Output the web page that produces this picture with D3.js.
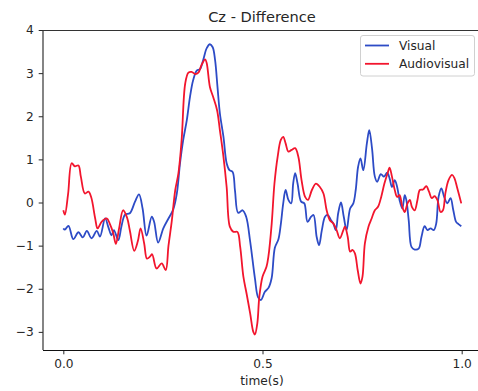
<!DOCTYPE html>
<html><head><meta charset="utf-8">
<script src="https://cdn.jsdelivr.net/npm/d3@7"></script>
<style>body{margin:0;background:#fff}svg{display:block;font-family:"DejaVu Sans",sans-serif}</style>
</head><body><svg id="c" width="478" height="391"></svg>
<script>
const title = "Cz - Difference";
const xLabel = "time(s)";
const xTicks = [0.0, 0.5, 1.0];
const yTicks = [-3, -2, -1, 0, 1, 2, 3, 4];
const seriesNames = ["Visual", "Audiovisual"];
const seriesColors = ["#2d4bc6", "#f2152d"];

const visualTime = [0.0,0.004,0.013,0.025,0.038,0.049,0.059,0.071,0.084,0.092,0.105,0.113,0.121,0.127,0.138,0.146,0.155,0.167,0.18,0.19,0.199,0.209,0.222,0.228,0.238,0.251,0.264,0.276,0.285,0.293,0.301,0.31,0.318,0.326,0.335,0.343,0.351,0.36,0.368,0.375,0.381,0.387,0.393,0.402,0.41,0.417,0.425,0.431,0.439,0.45,0.459,0.469,0.481,0.489,0.496,0.506,0.515,0.523,0.531,0.54,0.546,0.552,0.558,0.565,0.572,0.577,0.582,0.588,0.597,0.605,0.613,0.622,0.628,0.636,0.642,0.649,0.657,0.664,0.672,0.678,0.684,0.69,0.697,0.704,0.711,0.72,0.728,0.734,0.74,0.746,0.753,0.762,0.768,0.775,0.782,0.788,0.797,0.805,0.813,0.819,0.825,0.832,0.838,0.844,0.851,0.857,0.861,0.867,0.874,0.882,0.892,0.899,0.907,0.914,0.922,0.93,0.936,0.942,0.949,0.956,0.964,0.972,0.979,0.986,0.992,0.999];
const visualValues = [-0.6,-0.63,-0.54,-0.85,-0.69,-0.81,-0.66,-0.83,-0.66,-0.79,-0.37,-0.57,-0.76,-0.64,-0.87,-0.55,-0.28,-0.25,0.02,0.19,-0.14,-0.77,-0.33,-0.45,-0.93,-0.6,-0.37,-0.16,0.21,0.91,1.45,1.91,2.45,2.84,3.06,3.09,3.3,3.58,3.67,3.6,3.3,2.68,2.07,1.52,0.91,0.75,0.71,0.27,-0.24,-0.18,-0.33,-0.9,-1.76,-2.2,-2.26,-2.07,-1.98,-1.75,-1.05,-0.85,-0.5,-0.02,0.29,0.06,-0.02,0.44,0.68,0.44,0.02,-0.02,-0.45,-0.33,-0.29,-0.8,-0.99,-0.64,-0.33,-0.29,-0.41,-0.49,-0.64,-0.25,0.0,-0.33,-0.64,-0.14,-0.02,0.29,0.83,1.02,0.75,1.37,1.68,1.25,0.6,0.48,0.66,0.6,0.69,0.56,0.36,0.52,0.36,0.06,-0.14,0.17,0.06,-0.41,-1.03,-1.09,-1.07,-0.8,-0.55,-0.64,-0.6,-0.64,-0.49,0.13,0.33,0.13,-0.02,0.1,-0.18,-0.45,-0.5,-0.55];

const avTime = [0.0,0.004,0.012,0.021,0.029,0.038,0.044,0.054,0.063,0.07,0.08,0.086,0.096,0.109,0.117,0.125,0.132,0.14,0.15,0.16,0.167,0.178,0.187,0.194,0.203,0.21,0.218,0.223,0.234,0.247,0.257,0.264,0.272,0.281,0.289,0.297,0.306,0.314,0.322,0.331,0.339,0.347,0.356,0.36,0.368,0.376,0.386,0.393,0.402,0.41,0.418,0.427,0.437,0.444,0.452,0.46,0.469,0.477,0.481,0.487,0.492,0.5,0.51,0.515,0.523,0.53,0.538,0.546,0.552,0.558,0.565,0.573,0.582,0.59,0.598,0.607,0.614,0.624,0.634,0.644,0.653,0.661,0.669,0.678,0.686,0.694,0.703,0.707,0.714,0.72,0.726,0.732,0.739,0.746,0.751,0.757,0.766,0.774,0.782,0.79,0.798,0.806,0.814,0.819,0.825,0.832,0.838,0.844,0.851,0.857,0.864,0.87,0.875,0.882,0.889,0.895,0.903,0.911,0.918,0.925,0.932,0.939,0.947,0.953,0.959,0.967,0.976,0.982,0.989,0.999];
const avValues = [-0.18,-0.28,0.2,0.91,0.84,0.86,0.6,0.21,0.25,0.12,-0.37,-0.6,-0.45,-0.37,-0.5,-0.7,-0.96,-0.6,-0.18,-0.35,-0.65,-1.12,-0.9,-0.6,-0.95,-1.3,-1.25,-1.2,-1.53,-1.41,-1.57,-1.0,-0.45,0.29,0.68,1.45,2.76,3.01,3.03,2.98,3.01,3.19,3.32,3.23,2.68,2.45,2.14,1.68,1.06,0.36,-0.56,-0.68,-0.68,-1.03,-1.72,-2.11,-2.57,-3.0,-3.06,-2.8,-2.19,-1.72,-1.49,-1.24,-0.5,0.44,1.06,1.45,1.52,1.37,1.18,1.22,1.26,1.06,0.52,0.13,0.06,0.29,0.44,0.36,0.21,-0.18,-0.41,-0.49,-0.64,-0.83,-0.64,-0.56,-0.8,-1.14,-1.1,-1.18,-1.57,-1.88,-1.72,-0.95,-0.56,-0.37,-0.18,-0.1,0.13,0.44,0.68,0.81,0.6,0.29,0.13,0.17,-0.1,-0.22,-0.02,0.06,-0.1,-0.18,0.06,0.29,0.3,0.38,0.25,0.1,0.15,0.06,-0.22,-0.18,0.21,0.52,0.64,0.56,0.33,-0.02];

const svg = d3.select("#c");
const L = 43, T = 30, R = 482, B = 350;
const FS = 12.2;
const x = d3.scaleLinear().domain([-0.05, 1.05]).range([L + 0.4, R - 0.4]);
const y = d3.scaleLinear().domain([-3.42, 4]).range([B, T]);

svg.append("defs").append("clipPath").attr("id","clip")
  .append("rect").attr("x",L).attr("y",T).attr("width",R-L).attr("height",B-T);

const line = d3.line().x(d=>x(d[0])).y(d=>y(d[1])).curve(d3.curveCatmullRom.alpha(0.5));
const data = [visualTime.map((t,i)=>[t, visualValues[i]]), avTime.map((t,i)=>[t, avValues[i]])];
const g = svg.append("g").attr("clip-path","url(#clip)");
data.forEach((d,i)=>{
  g.append("path").datum(d).attr("d",line).attr("fill","none")
   .attr("stroke",seriesColors[i]).attr("stroke-width",1.8).attr("stroke-linejoin","round");
});

// axes
const xa = svg.append("g").attr("transform",`translate(0,${B})`)
  .call(d3.axisBottom(x).tickValues(xTicks).tickFormat(d3.format(".1f")).tickSizeOuter(0).tickSize(4.3).tickPadding(5));
const ya = svg.append("g").attr("transform",`translate(${L},0)`)
  .call(d3.axisLeft(y).tickValues(yTicks).tickFormat(d=>d<0?"\u2212"+Math.abs(d):String(d)).tickSizeOuter(0).tickSize(4.3).tickPadding(5));
[xa,ya].forEach(a=>{
  a.select(".domain").remove();
  a.selectAll("text").attr("font-size",FS).attr("fill","#262626").attr("font-family","DejaVu Sans");
  a.selectAll("line").attr("stroke","#262626");
});
// spines
svg.append("line").attr("x1",L).attr("x2",L).attr("y1",T).attr("y2",B).attr("stroke","#333").attr("stroke-width",1.2);
svg.append("line").attr("x1",L).attr("x2",R).attr("y1",T+0.5).attr("y2",T+0.5).attr("stroke","#333").attr("stroke-width",1);
svg.append("line").attr("x1",L).attr("x2",R).attr("y1",B+0.5).attr("y2",B+0.5).attr("stroke","#111").attr("stroke-width",1);

svg.append("text").attr("x",262).attr("y",21.7).attr("text-anchor","middle")
  .attr("font-size",14.6).attr("fill","#262626").text(title);
svg.append("text").attr("x",262).attr("y",385).attr("text-anchor","middle")
  .attr("font-size",FS).attr("fill","#262626").text(xLabel);

// legend
const lg = svg.append("g");
lg.append("rect").attr("x",360.5).attr("y",35.5).attr("width",114).attr("height",40.5).attr("rx",2.5)
  .attr("fill","#fff").attr("fill-opacity",0.8).attr("stroke","#d0d0d0");
seriesNames.forEach((n,i)=>{
  const yy = 45.5 + i*18.3;
  lg.append("line").attr("x1",365).attr("x2",389).attr("y1",yy).attr("y2",yy)
    .attr("stroke",seriesColors[i]).attr("stroke-width",1.8);
  lg.append("text").attr("x",399).attr("y",yy+4.3).attr("font-size",FS).attr("fill","#262626").text(n);
});
</script></body></html>
